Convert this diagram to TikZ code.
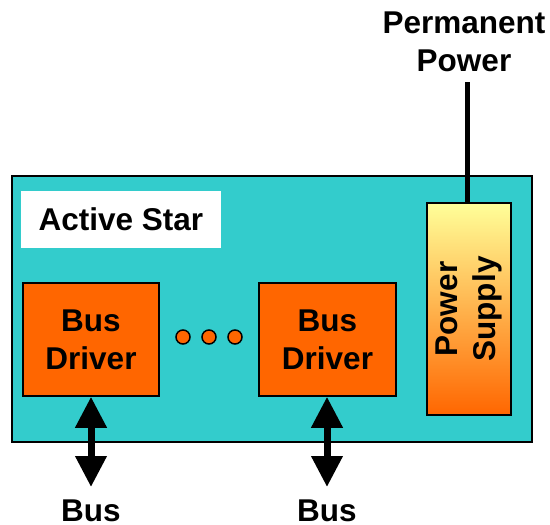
\documentclass[tikz,border=0pt]{standalone}
\usepackage{fontspec}
\setmainfont{Liberation Sans}
\usetikzlibrary{arrows.meta}
\definecolor{starteal}{HTML}{33CCCC}
\definecolor{drvorange}{HTML}{FF6600}
\definecolor{psyellow}{HTML}{FFFF99}

\begin{document}
\begin{tikzpicture}[x=1pt,y=-1pt,
  lbl/.style={font=\fontsize{31.5}{38}\selectfont\bfseries, align=center, inner sep=0pt},
  starbox/.style={draw=black, line width=1.5pt, fill=starteal, inner sep=0pt},
  tagbox/.style={fill=white, inner sep=0pt, lbl},
  drvbox/.style={draw=black, line width=1.5pt, fill=drvorange, lbl},
  psubox/.style={draw=black, line width=1.5pt, top color=psyellow, bottom color=drvorange, inner sep=0pt},
  dotmark/.style={circle, draw=black, line width=1.5pt, fill=drvorange, minimum size=14pt, inner sep=0pt},
  busarrow/.style={line width=7pt, {Triangle[width=30pt,length=31pt]}-{Triangle[width=30pt,length=31pt]}},
  feedline/.style={line width=5pt}
]
\useasboundingbox (0,0) rectangle (550,525);

% Active star enclosure
\node[starbox, minimum width=520pt, minimum height=266pt] (star) at (272,309) {};
\node[tagbox, minimum width=200pt, minimum height=57pt] (tag) at (121,219.5) {Active Star};

% Bus drivers
\node[drvbox, minimum width=136pt, minimum height=113pt] (drv1) at (91,339.5) {Bus\\Driver};
\node[drvbox, minimum width=137pt, minimum height=113pt] (drv2) at (327.5,339.5) {Bus\\Driver};

% Ellipsis between drivers
\node[dotmark] (d1) at (183,337) {};
\node[dotmark] (d2) at (209,337) {};
\node[dotmark] (d3) at (235,337) {};

% Power supply
\node[psubox, minimum width=84pt, minimum height=212pt] (psu) at (469,309) {};
\node[lbl, rotate=90] (psutext) at (psu.center) {Power\\Supply};

% Permanent power feed
\node[lbl] (pp) at (464,42) {Permanent\\Power};
\coordinate (pwrin) at (467,82);
\draw[feedline] ([xshift=-2pt]psu.north) -- (pwrin);

% Bus connections
\coordinate (bus1end) at (91,487);
\coordinate (bus2end) at (327,487);
\draw[busarrow] (drv1.south) -- (bus1end);
\draw[busarrow] ([xshift=-0.5pt]drv2.south) -- (bus2end);
\node[lbl] (bus1) at (91,511) {Bus};
\node[lbl] (bus2) at (327,511) {Bus};
\end{tikzpicture}
\end{document}
